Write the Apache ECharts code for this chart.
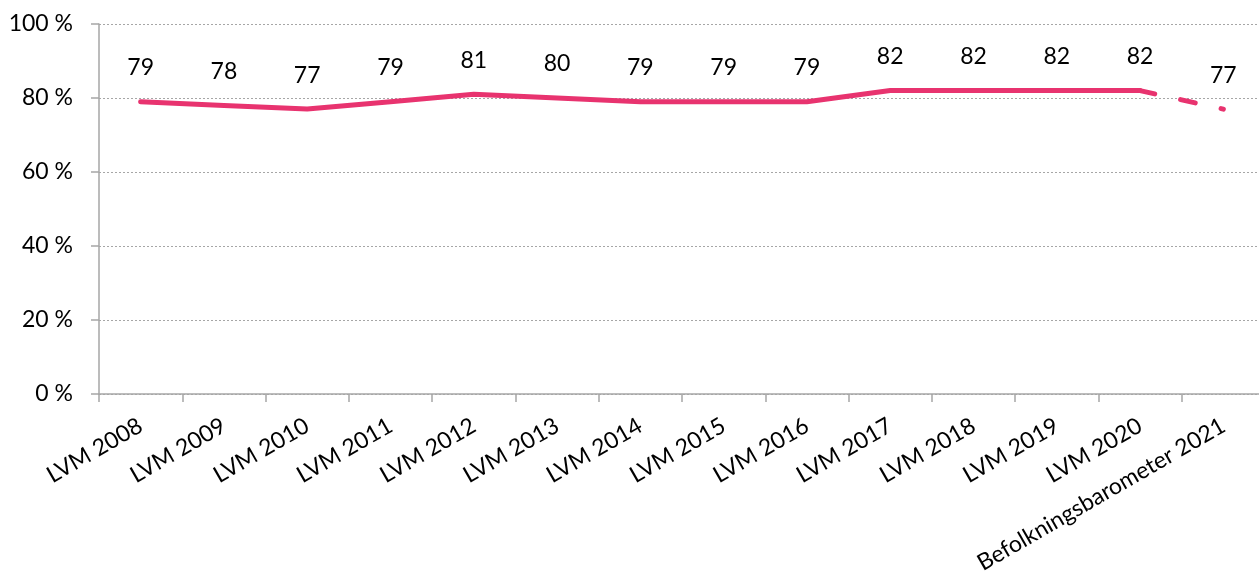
<!DOCTYPE html>
<html>
<head>
<meta charset="utf-8">
<script src="https://cdn.jsdelivr.net/npm/echarts@6/dist/echarts.min.js"></script>
<style>
  html, body { margin: 0; padding: 0; background: #fff; overflow: hidden; }
  #chart { width: 1265px; height: 578px; }
</style>
</head>
<body>
<div id="chart"></div>
<script>
// Survey rounds along the x axis
const categories = [
  'LVM 2008', 'LVM 2009', 'LVM 2010', 'LVM 2011', 'LVM 2012', 'LVM 2013',
  'LVM 2014', 'LVM 2015', 'LVM 2016', 'LVM 2017', 'LVM 2018', 'LVM 2019',
  'LVM 2020', 'Befolkningsbarometer 2021'
];
// Share (%) per round; the last value comes from a different survey
const lvmValues = [79, 78, 77, 79, 81, 80, 79, 79, 79, 82, 82, 82, 82];
const barometerValue = 77;
const yTicks = [0, 20, 40, 60, 80, 100];

const pink = '#E8336F';
const font = 'Lato, "Open Sans", sans-serif';
const textSize = 23;

// Solid line over the LVM rounds, dashed link to the 2021 barometer
const solidData = lvmValues.concat([null]);
const dashedData = categories.map((c, i) => {
  if (i === lvmValues.length - 1) return { value: lvmValues[i], label: { show: false } };
  if (i === categories.length - 1) return barometerValue;
  return null;
});

const valueLabel = {
  show: true, position: 'top', distance: 22,
  color: '#000', fontSize: textSize, fontFamily: font
};

const chart = echarts.init(document.getElementById('chart'), null, { renderer: 'canvas' });
chart.setOption({
  animation: false,
  grid: { left: 99, right: 0, top: 24, bottom: 184, containLabel: false },
  xAxis: {
    type: 'category',
    data: categories,
    boundaryGap: true,
    axisLine: { lineStyle: { color: '#a6a6a6', width: 1.5 } },
    axisTick: { show: true, length: 8, lineStyle: { color: '#a6a6a6', width: 1.5 } },
    axisLabel: {
      rotate: 30, margin: 30, interval: 0,
      color: '#000', fontSize: textSize, fontFamily: font
    }
  },
  yAxis: {
    type: 'value',
    min: yTicks[0], max: yTicks[yTicks.length - 1], interval: 20,
    axisLine: { show: true, lineStyle: { color: '#a6a6a6', width: 1.5 } },
    axisTick: { show: true, length: 8, lineStyle: { color: '#a6a6a6', width: 1.5 } },
    axisLabel: {
      formatter: '{value} %', margin: 26,
      color: '#000', fontSize: textSize, fontFamily: font
    },
    splitLine: { show: true, lineStyle: { color: '#a6a6a6', type: [2, 2], width: 1 } }
  },
  series: [
    {
      type: 'line',
      data: solidData,
      symbol: 'circle', symbolSize: 1, showSymbol: true,
      itemStyle: { color: 'rgba(0,0,0,0)' },
      connectNulls: false,
      lineStyle: { color: pink, width: 5, cap: 'round', join: 'round' },
      label: valueLabel
    },
    {
      type: 'line',
      data: dashedData,
      symbol: 'circle', symbolSize: 1, showSymbol: true,
      itemStyle: { color: 'rgba(0,0,0,0)' },
      connectNulls: false,
      lineStyle: { color: pink, width: 5, type: [15, 26.5], cap: 'round' },
      label: valueLabel
    }
  ]
});
</script>
</body>
</html>
